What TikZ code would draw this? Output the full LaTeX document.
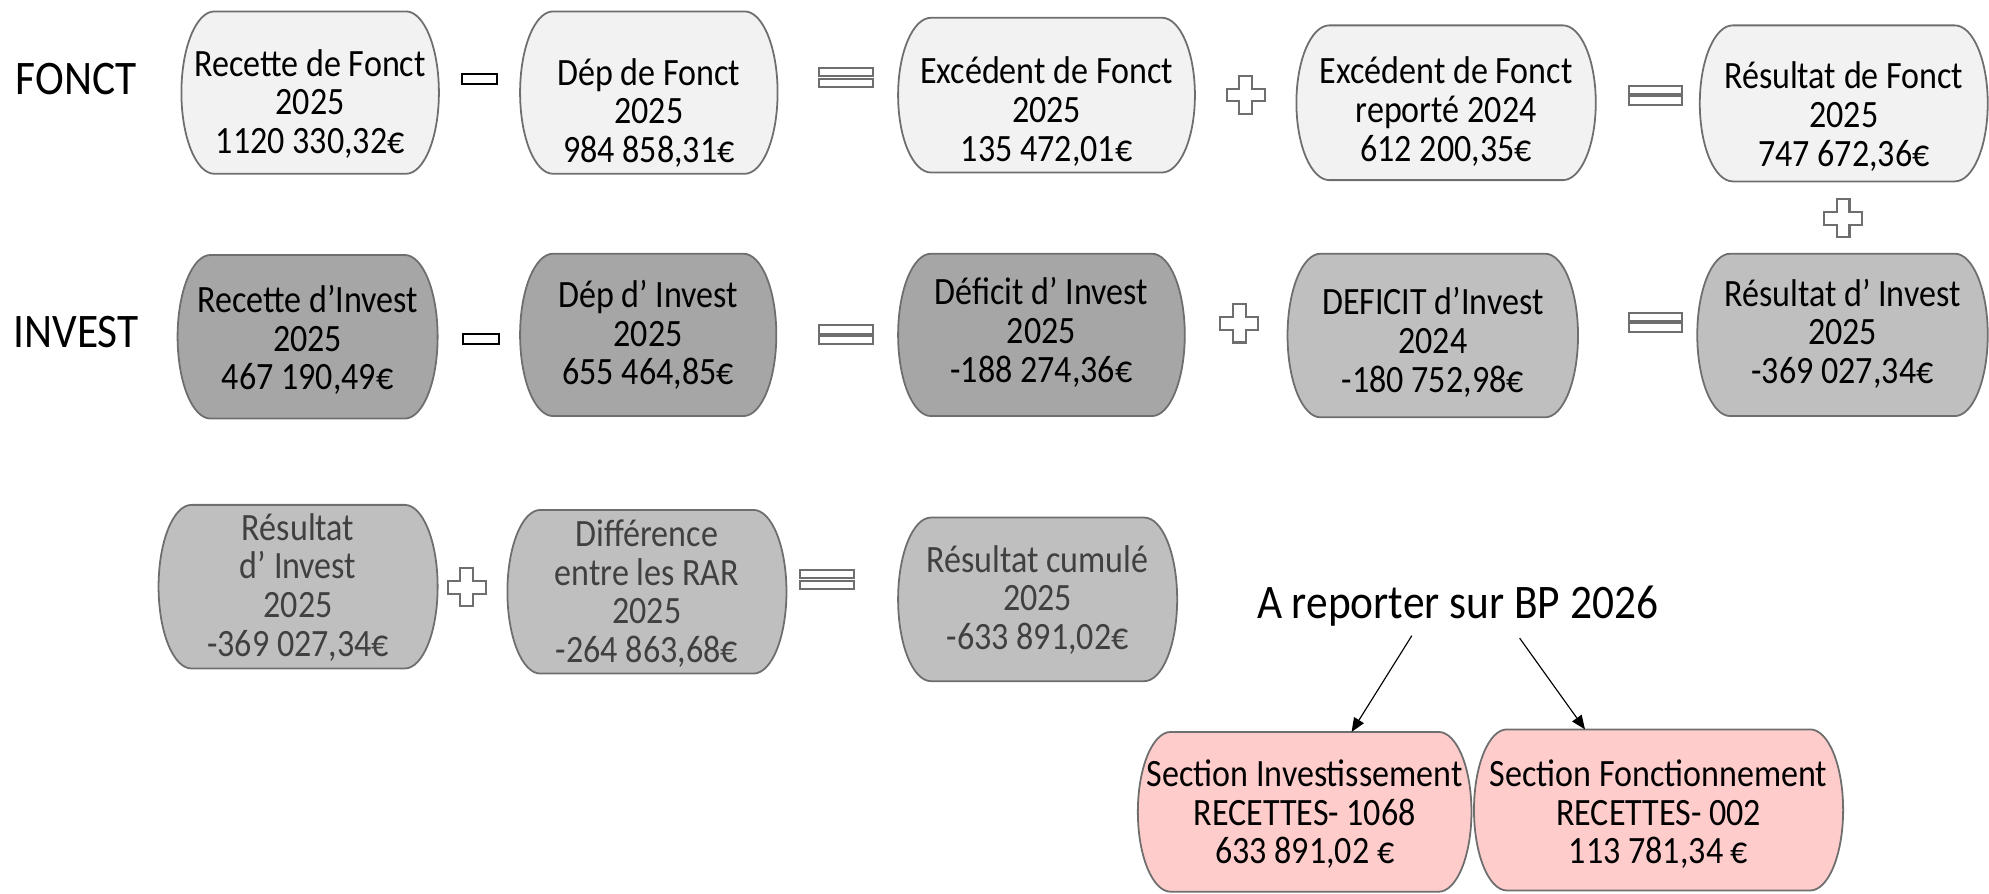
\documentclass[tikz,border=0pt]{standalone}
\usepackage{fontspec}
\setmainfont{Carlito}
\newfontfamily\boxfont[FakeStretch=0.88]{Carlito}
\newfontfamily\labelfont[FakeStretch=0.9]{Carlito}
\usetikzlibrary{arrows.meta}
\definecolor{fonctfill}{HTML}{F2F2F2}
\definecolor{darkfill}{HTML}{A6A6A6}
\definecolor{midfill}{HTML}{BFBFBF}
\definecolor{pinkfill}{HTML}{FFCCCC}
\definecolor{boxline}{HTML}{6E6E6E}
\definecolor{greytext}{HTML}{404040}
\tikzset{
  barrelline/.style={draw=boxline, line width=1.4pt},
  txt/.style={align=center, inner sep=0pt, font=\boxfont\fontsize{30.5}{30.5}\selectfont},
  rowlabel/.style={inner sep=0pt, font=\labelfont\fontsize{38}{40}\selectfont},
  opline/.style={draw=boxline, fill=white, line width=1.6pt},
  arr/.style={-{Triangle[length=11pt,width=9pt]}, line width=0.9pt}
}
% box with bulging sides: name, x1, y1, x2, y2, fill, text y, text
\newcommand{\barrel}[8]{%
  \filldraw[barrelline, fill=#6] (#2+26,#3) -- (#4-26,#3)
    arc[start angle=90, end angle=-90, x radius=26pt, y radius={(#5-#3)/2*1pt}]
    -- (#2+26,#5)
    arc[start angle=270, end angle=90, x radius=26pt, y radius={(#5-#3)/2*1pt}]
    -- cycle;
  \coordinate (#1t) at ({(#2+#4)/2},#3);
  \node[txt] (#1) at ({(#2+#4)/2},#7) {#8};}
\newcommand{\opminus}[2]{%
  \draw[line width=1.6pt, fill=white] (#1-14,#2-4) rectangle (#1+14,#2+4);}
\newcommand{\opequal}[2]{%
  \draw[opline] (#1-21,#2-7.5) rectangle (#1+21,#2-1);
  \draw[opline] (#1-21,#2+1) rectangle (#1+21,#2+7.5);}
\newcommand{\opplus}[2]{%
  \draw[opline, shift={(#1,#2)}] (-5,-15) -- (5,-15) -- (5,-5) -- (15,-5) -- (15,5)
    -- (5,5) -- (5,15) -- (-5,15) -- (-5,5) -- (-15,5) -- (-15,-5) -- (-5,-5) -- cycle;}

\begin{document}
\begin{tikzpicture}[x=1pt, y=-1pt]
\useasboundingbox (0,0) rectangle (1568,704);

% FONCT
\path (60,62) node[rowlabel] (fonct) {FONCT};
\barrel{rf}{143}{9}{346}{137}{fonctfill}{82}{Recette de Fonct\\2025\\1120 330,32€}
\opminus{378}{62}
\barrel{df}{410}{9}{613}{137}{fonctfill}{89}{Dép de Fonct\\2025\\984 858,31€}
\opequal{667}{61}
\barrel{ef}{708}{14}{942}{136}{fonctfill}{88}{Excédent de Fonct\\2025\\135 472,01€}
\opplus{982}{75}
\barrel{er}{1022}{20}{1258}{142}{fonctfill}{88}{Excédent de Fonct\\reporté 2024\\612 200,35€}
\opequal{1305}{75}
\barrel{resf}{1340}{20}{1567}{143}{fonctfill}{92}{Résultat de Fonct\\2025\\747 672,36€}
\opplus{1453}{172}

% INVEST
\path (60,262) node[rowlabel] (invest) {INVEST};
\barrel{ri}{140}{201}{345}{330}{darkfill}{268}{Recette d’Invest\\2025\\467 190,49€}
\opminus{379}{267}
\barrel{di}{410}{200}{612}{328}{darkfill}{264}{Dép d’ Invest\\2025\\655 464,85€}
\opequal{667}{264}
\barrel{dfi}{708}{200}{934}{328}{darkfill}{262}{Déficit d’ Invest\\2025\\-188 274,36€}
\opplus{977}{255}
\barrel{dfip}{1015}{200}{1244}{329}{midfill}{270}{DEFICIT d’Invest\\2024\\-180 752,98€}
\opequal{1305}{254}
\barrel{resi}{1338}{200}{1567}{328}{midfill}{263}{Résultat d’ Invest\\2025\\-369 027,34€}

% cumul
\begin{scope}[txt/.append style={text=greytext}]
\barrel{resib}{125}{398}{345}{527}{midfill}{463}{Résultat\\d’ Invest\\2025\\-369 027,34€}
\opplus{368}{463}
\barrel{rar}{400}{402}{620}{531}{midfill}{468}{Différence\\entre les RAR\\2025\\-264 863,68€}
\opequal{652}{457}
\barrel{cum}{708}{408}{928}{537}{midfill}{473}{Résultat cumulé\\2025\\-633 891,02€}
\end{scope}

% BP 2026
\path (1149,478) node[rowlabel] (rep) {A reporter sur BP 2026};
\barrel{si}{897}{577}{1160}{703}{pinkfill}{642}{Section Investissement\\RECETTES- 1068\\633 891,02 €}
\barrel{sf}{1162}{575}{1453}{702}{pinkfill}{642}{Section Fonctionnement\\RECETTES- 002\\113 781,34 €}
\draw[arr] ([xshift=-36pt, yshift=-7pt]rep.south) -- ([xshift=37pt]sit);
\draw[arr] ([xshift=49pt, yshift=-9pt]rep.south) -- ([xshift=-58pt]sft);
\end{tikzpicture}
\end{document}
